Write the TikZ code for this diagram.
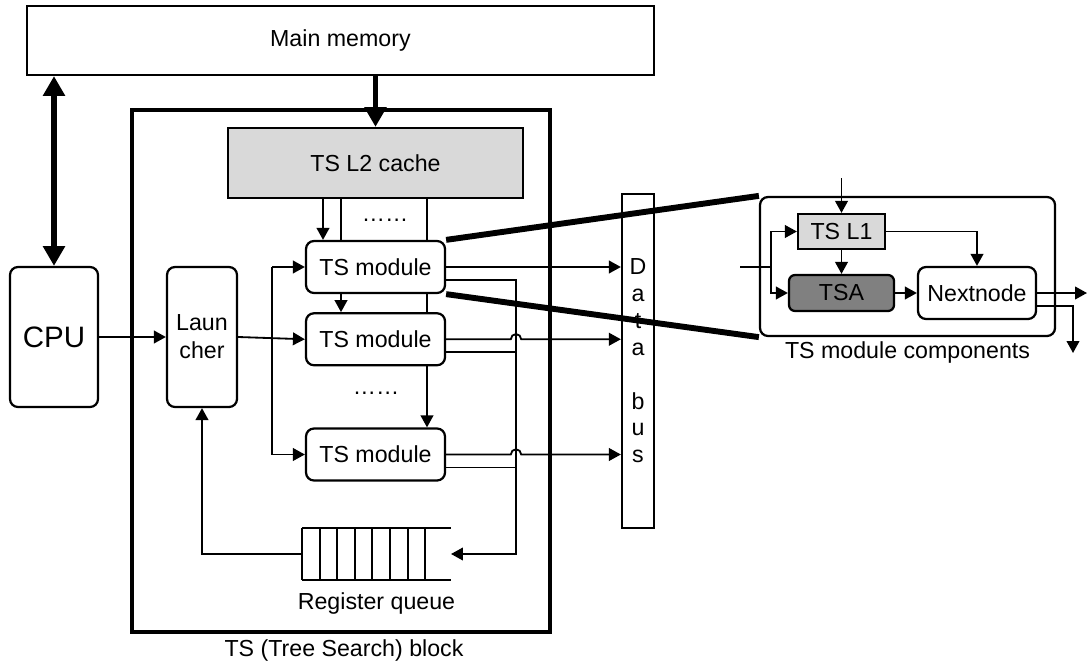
\documentclass[tikz,border=0pt]{standalone}
\usepackage{fontspec}
\setmainfont{Liberation Sans}
\usetikzlibrary{arrows.meta,positioning,calc}

\begin{document}
\begin{tikzpicture}[font=\fontsize{16.5}{19.8}\selectfont]
    \tikzset{
      box/.style={rectangle,draw=black,line width=1.6pt},
      roundbox/.style={box,rounded corners=0.2cm,fill=white},
      plain/.style={line width=1.3pt},
      arrow/.style={->,>={Triangle[length=8.5pt,width=9pt]},line width=1.3pt},
      bigarrow/.style={->,>={Triangle[length=14pt,width=15pt]},line width=3.6pt},
      zoomline/.style={line width=4.2pt}
    }
    \useasboundingbox (0,0) rectangle (27.225,-16.575);

    % memory, CPU and the tree search block
    \node[box,minimum width=15.68cm,minimum height=1.73cm](mem) at (8.51,-1.01){Main memory};
    \node[box,line width=2.6pt,minimum width=10.45cm,minimum height=13.05cm](tsblock) at (8.525,-9.275){};
    \node(tscap) at (8.6,-16.25){TS (Tree Search) block};
    \node[box,fill=gray!30,minimum width=7.375cm,minimum height=1.75cm](cache) at (9.3875,-4.075){TS L2 cache};
    \node[roundbox,minimum width=2.2cm,minimum height=3.5cm,font=\fontsize{21}{25}\selectfont](cpu) at (1.35,-8.425){CPU};
    \node[roundbox,align=center,minimum width=1.75cm,minimum height=3.5cm](launcher) at (5.05,-8.425){Laun\\cher};
    \node[roundbox,minimum width=3.475cm,minimum height=1.3cm](m1) at (9.3875,-6.675){TS module};
    \node[roundbox,minimum width=3.475cm,minimum height=1.3cm,below=0.45cm of m1](m2){TS module};
    \node[roundbox,minimum width=3.475cm,minimum height=1.3cm,below=1.525cm of m2](m3){TS module};
    \node(dots1) at (9.625,-5.5){……};
    \node(dots2) at (9.4,-9.825){……};
    \node[box,minimum width=0.8cm,minimum height=8.35cm,align=center,font=\fontsize{16.5}{19.1}\selectfont](bus) at (15.95,-9.025){D\\a\\t\\a\\~\\b\\u\\s};

    % register queue
    \node[minimum width=3.725cm,minimum height=1.3cm,inner sep=0pt,outer sep=0pt](queue) at (9.4125,-13.85){};
    \node[below=0.2cm of queue](qcap){Register queue};
    \foreach \i in {0,...,7}
      \draw[plain] ($(queue.north west)+(\i*0.44,0)$) -- ($(queue.south west)+(\i*0.44,0)$);
    \draw[plain] (queue.north west) -- (queue.north east);
    \draw[plain] (queue.south west) -- (queue.south east);

    % inside a TS module
    \node[roundbox,minimum width=7.375cm,minimum height=3.475cm](comp) at (22.6875,-6.6625){};
    \node[below=0pt of comp](compcap){TS module components};
    \node[box,fill=gray!30,minimum width=2.175cm,minimum height=0.875cm](tsl1) at (21.0375,-5.7875){TS L1};
    \node[roundbox,rounded corners=0.15cm,fill=gray,minimum width=2.625cm,minimum height=0.9cm](tsa) at (21.0375,-7.325){TSA};
    \node[roundbox,minimum width=2.95cm,minimum height=1.3cm](nextnode) at (24.425,-7.325){Nextnode};

    \coordinate(fork) at (6.8,-8.425);
    \coordinate(feeda) at (8.075,0);
    \coordinate(feedb) at (8.525,0);
    \coordinate(feedc) at (10.675,0);
    \coordinate(ret) at (12.9,0);
    \coordinate(m1o) at ([yshift=-0.325cm]m1.east);
    \coordinate(m2o) at ([yshift=-0.325cm]m2.east);
    \coordinate(m3o) at ([yshift=-0.325cm]m3.east);
    \coordinate(l1in) at ([yshift=0.86cm]tsl1.north);
    \coordinate(compin) at (18.5,-6.675);
    \coordinate(split) at (19.275,-6.675);
    \coordinate(outa) at (27.175,-7.325);
    \coordinate(outb) at (26.825,-8.825);
    \coordinate(nodeb) at ([yshift=-0.325cm]nextnode.east);

    \draw[bigarrow,<->](cpu.north) -- (cpu.north |- mem.south);
    \draw[bigarrow](cache.north |- mem.south) -- (cache.north);
    \draw[arrow](cpu.east) -- (launcher.west);

    \draw[arrow](launcher.east) -- (m2.west);
    \draw[plain](fork |- m1.west) -- (fork |- m3.west);
    \draw[arrow](fork |- m1.west) -- (m1.west);
    \draw[arrow](fork |- m3.west) -- (m3.west);

    \draw[arrow](cache.south -| feeda) -- (m1.north -| feeda);
    \draw[plain](cache.south -| feedb) -- (m1.north -| feedb);
    \draw[arrow](m1.south -| feedb) -- (m2.north -| feedb);
    \draw[plain](cache.south -| feedc) -- (m1.north -| feedc);
    \draw[plain](m1.south -| feedc) -- (m2.north -| feedc);
    \draw[arrow](m2.south -| feedc) -- (m3.north -| feedc);

    \draw[arrow](m1.east) -- (bus.west |- m1.east);
    \draw[arrow](m2.east) -- ($(m2.east -| ret)+(-0.13,0)$) arc[start angle=180,end angle=0,radius=0.13] -- (bus.west |- m2.east);
    \draw[arrow](m3.east) -- ($(m3.east -| ret)+(-0.13,0)$) arc[start angle=180,end angle=0,radius=0.13] -- (bus.west |- m3.east);
    \draw[arrow](m1o) -| (ret |- queue.east) -- (queue.east);
    \draw[plain](m2o) -- (m2o -| ret);
    \draw[plain](m3o) -- (m3o -| ret);
    \draw[arrow](queue.west) -| (launcher.south);

    \draw[arrow](l1in) -- (tsl1.north);
    \draw[arrow](tsl1.south) -- (tsa.north);
    \draw[arrow](tsl1.east) -| (nextnode.north);
    \draw[arrow](tsa.east) -- (nextnode.west);
    \draw[plain](compin) -- (split);
    \draw[arrow](split) |- (tsl1.west);
    \draw[arrow](split) |- (tsa.west);
    \draw[arrow](nextnode.east) -- (outa);
    \draw[arrow](nodeb) -| (outb);

    \draw[zoomline](m1.north east) -- (comp.north west);
    \draw[zoomline](m1.south east) -- (comp.south west);
\end{tikzpicture}
\end{document}
